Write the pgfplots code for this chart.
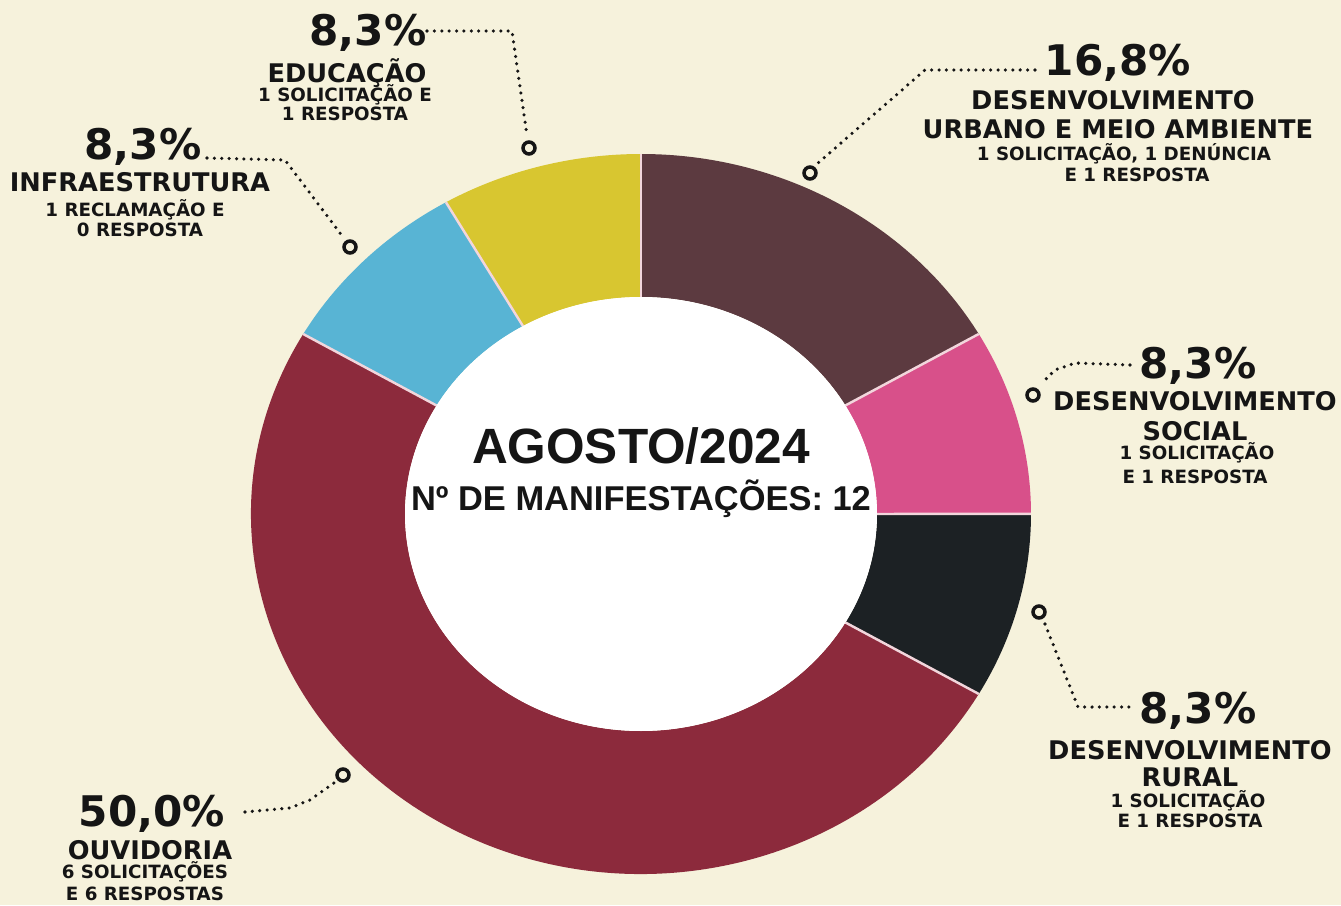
\documentclass[border=0pt]{standalone}
\usepackage{pgfplots}
\pgfplotsset{compat=1.18}
\usepackage{pgfplotstable}
\usepackage{fontspec}
\setmainfont{DejaVu Sans}
\newfontfamily\arialf{Liberation Sans}

\definecolor{bg}{HTML}{F6F2DC}
\definecolor{sc0}{HTML}{5C3A40}
\definecolor{sc1}{HTML}{D8508A}
\definecolor{sc2}{HTML}{1C2124}
\definecolor{sc3}{HTML}{8C2A3C}
\definecolor{sc4}{HTML}{58B4D4}
\definecolor{sc5}{HTML}{D8C630}
\definecolor{sep}{HTML}{F2D6DC}
\definecolor{ink}{HTML}{151515}

\newcommand\pct{\fontsize{12}{12}\selectfont\bfseries}
\newcommand\cat{\fontsize{7.3}{7.3}\selectfont\bfseries}
\newcommand\sm{\fontsize{5.2}{5.2}\selectfont\bfseries}

% slices, clockwise from the top
\pgfplotstableread{
id value
0 2
1 1
2 1
3 6
4 1
5 1
}\slices

\begin{document}
\begin{tikzpicture}
\useasboundingbox (0,0) rectangle (13.41cm,9.05cm);
\fill[bg] (0,0) rectangle (13.41cm,9.05cm);
\def\total{12}
\xdef\cur{90}
\foreach \i in {0,...,5}{
  \pgfplotstablegetelem{\i}{value}\of\slices
  \pgfmathsetmacro{\nxt}{\cur-\pgfplotsretval/\total*360}
  \expandafter\xdef\csname sa\i\endcsname{\cur}
  \expandafter\xdef\csname sb\i\endcsname{\nxt}
  \xdef\cur{\nxt}
}
\begin{axis}[at={(0,0)}, anchor=south west,
  width=13.41cm, height=9.05cm, scale only axis,
  xmin=0, xmax=1341, ymin=0, ymax=905,
  hide axis, clip=false]
\pgfplotsinvokeforeach{0,...,5}{
  \fill[sc#1, shift={(axis cs:641,391)}]
    (\csname sa#1\endcsname:3.9cm and 3.6cm)
    arc[start angle=\csname sa#1\endcsname, end angle=\csname sb#1\endcsname, x radius=3.9cm, y radius=3.6cm]
    -- (\csname sb#1\endcsname:2.36cm and 2.17cm)
    arc[start angle=\csname sb#1\endcsname, end angle=\csname sa#1\endcsname, x radius=2.36cm, y radius=2.17cm]
    -- cycle;
}
\pgfplotsinvokeforeach{0,...,5}{
  \draw[sep, line width=0.7pt, shift={(axis cs:641,391)}]
    (\csname sa#1\endcsname:2.36cm and 2.17cm) -- (\csname sa#1\endcsname:3.9cm and 3.6cm);
}
\fill[white] (axis cs:641,391) ellipse[x radius=2.36cm, y radius=2.17cm];

% leaders
\addplot[ink, line width=1pt, dash pattern=on 0pt off 2.1pt, line cap=round]
  coordinates {(427,874) (512,874) (527,770)};
\addplot[ink, line width=1pt, dash pattern=on 0pt off 2.1pt, line cap=round]
  coordinates {(207,747) (285,745) (343,668)};
\addplot[ink, line width=1pt, dash pattern=on 0pt off 2.1pt, line cap=round]
  coordinates {(1035,835) (925,835) (818,742)};
\addplot[ink, line width=1pt, dash pattern=on 0pt off 2.1pt, line cap=round]
  coordinates {(1130,540) (1075,542) (1055,535) (1042,522)};
\addplot[ink, line width=1pt, dash pattern=on 0pt off 2.1pt, line cap=round]
  coordinates {(1045,281) (1078,198) (1135,198)};
\addplot[ink, line width=1pt, dash pattern=on 0pt off 2.1pt, line cap=round]
  coordinates {(245,93) (290,97) (310,105) (334,122)};
\addplot[only marks, mark=o, mark size=1.7pt, mark options={ink, line width=1pt, fill=none}]
  coordinates {(529,757) (350,658) (810,732) (1033,510) (1039,293) (343,130)};

% center
\node[anchor=base, font=\arialf\bfseries\fontsize{14.1}{14}\selectfont, ink] at (axis cs:641,442) {AGOSTO/2024};
\node[anchor=base, font=\arialf\bfseries\fontsize{9.8}{10}\selectfont, ink] at (axis cs:641,395) {Nº DE MANIFESTAÇÕES: 12};

% Educação
\node[anchor=base, font=\pct, ink] at (axis cs:368,859) {8,3\%};
\node[anchor=base, font=\cat, ink] at (axis cs:347,822) {EDUCAÇÃO};
\node[anchor=base, font=\sm, ink] at (axis cs:345,803) {1 SOLICITAÇÃO E};
\node[anchor=base, font=\sm, ink] at (axis cs:345,784) {1 RESPOSTA};
% Infraestrutura
\node[anchor=base, font=\pct, ink] at (axis cs:143,745) {8,3\%};
\node[anchor=base, font=\cat, ink] at (axis cs:140,713) {INFRAESTRUTURA};
\node[anchor=base, font=\sm, ink] at (axis cs:135,688) {1 RECLAMAÇÃO E};
\node[anchor=base, font=\sm, ink] at (axis cs:140,668) {0 RESPOSTA};
% Urbano
\node[anchor=base, font=\pct, ink] at (axis cs:1118,829) {16,8\%};
\node[anchor=base, font=\cat, ink] at (axis cs:1113,795) {DESENVOLVIMENTO};
\node[anchor=base, font=\cat, ink] at (axis cs:1118,766) {URBANO E MEIO AMBIENTE};
\node[anchor=base, font=\sm, ink] at (axis cs:1124,744) {1 SOLICITAÇÃO, 1 DENÚNCIA};
\node[anchor=base, font=\sm, ink] at (axis cs:1137,723) {E 1 RESPOSTA};
% Social
\node[anchor=base, font=\pct, ink] at (axis cs:1198,527) {8,3\%};
\node[anchor=base, font=\cat, ink] at (axis cs:1195,495) {DESENVOLVIMENTO};
\node[anchor=base, font=\cat, ink] at (axis cs:1195,464) {SOCIAL};
\node[anchor=base, font=\sm, ink] at (axis cs:1197,445) {1 SOLICITAÇÃO};
\node[anchor=base, font=\sm, ink] at (axis cs:1195,422) {E 1 RESPOSTA};
% Rural
\node[anchor=base, font=\pct, ink] at (axis cs:1198,182) {8,3\%};
\node[anchor=base, font=\cat, ink] at (axis cs:1190,146) {DESENVOLVIMENTO};
\node[anchor=base, font=\cat, ink] at (axis cs:1190,119) {RURAL};
\node[anchor=base, font=\sm, ink] at (axis cs:1188,98) {1 SOLICITAÇÃO};
\node[anchor=base, font=\sm, ink] at (axis cs:1190,78) {E 1 RESPOSTA};
% Ouvidoria
\node[anchor=base, font=\pct, ink] at (axis cs:152,79) {50,0\%};
\node[anchor=base, font=\cat, ink] at (axis cs:150,46) {OUVIDORIA};
\node[anchor=base, font=\sm, ink] at (axis cs:145,27) {6 SOLICITAÇÕES};
\node[anchor=base, font=\sm, ink] at (axis cs:145,5) {E 6 RESPOSTAS};
\end{axis}
\end{tikzpicture}
\end{document}
